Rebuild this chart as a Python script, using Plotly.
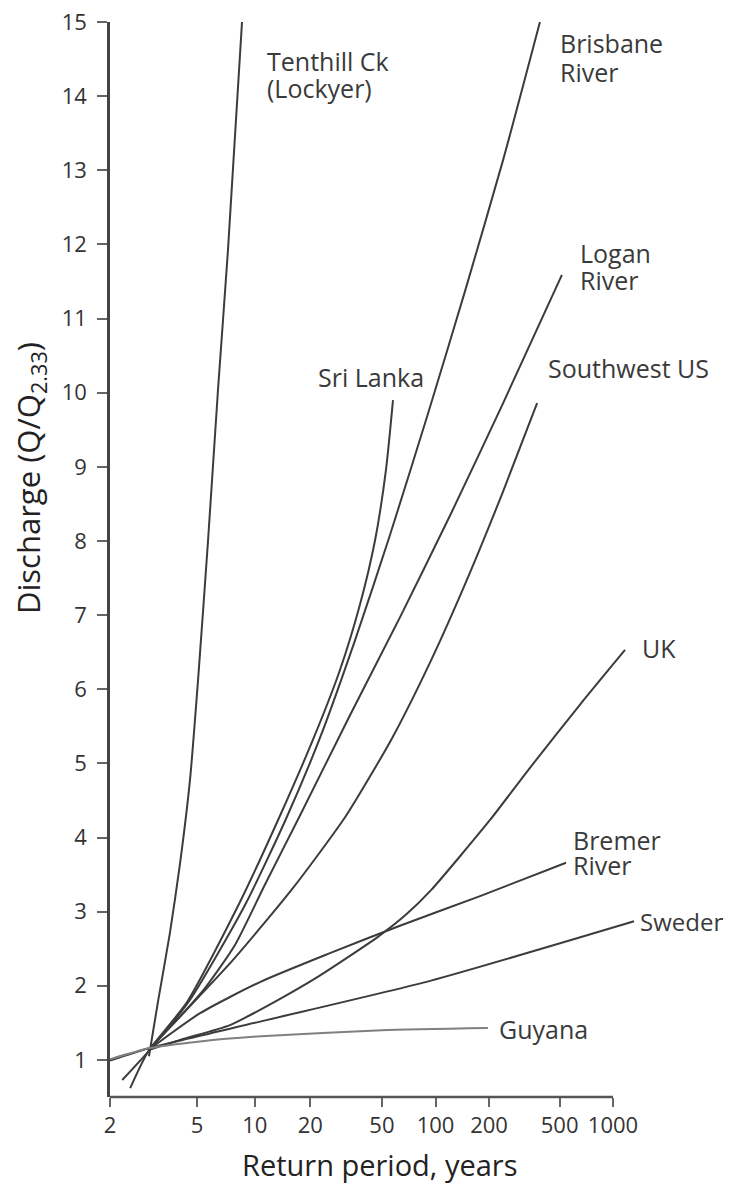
import numpy as np
import plotly.graph_objects as go

# ---------------- data (return period in years, discharge Q/Q2.33) ----------------
tenthill_T = [2.93, 3.23, 3.67, 4.11, 4.60, 5.05, 5.68, 6.39, 7.2, 8.54]
tenthill_Q = [1.05, 1.80, 2.71, 3.65, 4.77, 6.12, 8.01, 10.04, 11.92, 15.0]

srilanka_T = [2.42, 2.90, 4.45, 8.33, 13.7, 21.2, 29.2, 37.7, 45.8, 52.7, 57.7]
srilanka_Q = [0.62, 1.11, 1.78, 3.13, 4.30, 5.38, 6.26, 7.14, 8.01, 8.96, 9.90]

brisbane_T = [2.24, 2.90, 4.60, 8.86, 14.6, 22.6, 35.4, 55.5, 90.7, 146, 240, 387]
brisbane_Q = [0.73, 1.11, 1.81, 3.09, 4.23, 5.34, 6.66, 8.08, 9.72, 11.36, 13.14, 15.0]

logan_T = [2.90, 3.88, 5.48, 7.84, 11.3, 17.6, 33.2, 63.1, 121, 240, 515]
logan_Q = [1.13, 1.51, 1.97, 2.55, 3.36, 4.30, 5.65, 6.97, 8.35, 9.86, 11.59]

swus_T = [2.90, 7.66, 16.1, 31.5, 57.0, 94.3, 154, 240, 373]
swus_Q = [1.13, 2.35, 3.32, 4.29, 5.34, 6.39, 7.54, 8.67, 9.86]

uk_T = [2.90, 4.11, 7.38, 12.5, 22.0, 47.5, 68.3, 94.3, 203, 340, 650, 1169]
uk_Q = [1.13, 1.27, 1.47, 1.77, 2.12, 2.66, 2.96, 3.29, 4.24, 4.94, 5.79, 6.53]

bremer_T = [2.90, 5.17, 10.65, 25.7, 63.1, 178, 543]
bremer_Q = [1.13, 1.63, 2.05, 2.44, 2.81, 3.21, 3.66]

sweden_T = [2.0, 2.96, 10.8, 94.3, 1315]
sweden_Q = [0.99, 1.16, 1.52, 2.07, 2.87]

guyana_T = [2.0, 2.96, 5.17, 10.8, 50.0, 197]
guyana_Q = [1.01, 1.16, 1.25, 1.32, 1.40, 1.43]

x_ticks = [2, 5, 10, 20, 50, 100, 200, 500, 1000]
x_tick_text = ["2", "5", "10", "20", "50", "100", "200", "500", "1000"]
y_ticks = list(range(1, 16))

series = [
    ("Tenthill Ck (Lockyer)", tenthill_T, tenthill_Q),
    ("Sri Lanka", srilanka_T, srilanka_Q),
    ("Brisbane River", brisbane_T, brisbane_Q),
    ("Logan River", logan_T, logan_Q),
    ("Southwest US", swus_T, swus_Q),
    ("UK", uk_T, uk_Q),
    ("Bremer River", bremer_T, bremer_Q),
    ("Sweden", sweden_T, sweden_Q),
    ("Guyana", guyana_T, guyana_Q),
]

# label text lines and their anchor (return period, discharge)
labels = [
    ("Tenthill Ck", 11.3, 14.47),
    ("(Lockyer)", 11.3, 14.11),
    ("Brisbane", 489, 14.72),
    ("River", 489, 14.33),
    ("Logan", 634, 11.88),
    ("River", 634, 11.52),
    ("Sri Lanka", 21.5, 10.21),
    ("Southwest US", 418, 10.33),
    ("UK", 1421, 6.56),
    ("Bremer", 579, 3.97),
    ("River", 579, 3.63),
    ("Sweden", 1390, 2.87),
    ("Guyana", 221, 1.42),
]


def gumbel(T):
    """Gumbel (EV1) reduced variate for a return period T."""
    T = np.asarray(T, dtype=float)
    return -np.log(-np.log(1.0 - 1.0 / T))


FONT = "Open Sans"
LINE_COLOR = "#3c3c3c"

fig = go.Figure()
for name, T, Q in series:
    color = "#808080" if name == "Guyana" else LINE_COLOR
    fig.add_trace(go.Scatter(
        x=gumbel(T), y=Q, mode="lines", name=name,
        line=dict(color=color, width=2, shape="spline", smoothing=0.6),
        showlegend=False, hoverinfo="name",
    ))

for text, T, Q in labels:
    fig.add_annotation(
        x=float(gumbel(T)), y=Q, xref="x", yref="y", text=text,
        showarrow=False, xanchor="left", yanchor="middle",
        font=dict(family=FONT, size=24 if text == "Sweden" else 25, color="#3a3a3a"),
    )

# page has an 8px body margin; figure sized to end at the window edge
OFF = 8
W, H = 731 - OFF, 1185 - OFF
L, R, TOP, B = 110 - OFF, 21, 22 - OFF, 88
plot_w = W - L - R
plot_h = H - TOP - B
px_per_unit = (613 - 110) / float(gumbel(1000) - gumbel(2))
x0 = float(gumbel(2))
x1 = x0 + plot_w / px_per_unit


def paper_x(px):
    return (px - OFF - L) / plot_w


def paper_y(py):
    return ((H - B) - (py - OFF)) / plot_h


# axis titles
fig.add_annotation(
    x=paper_x(380), y=paper_y(1164), xref="paper", yref="paper",
    text="Return period, years", showarrow=False, xanchor="center", yanchor="middle",
    font=dict(family=FONT, size=29, color="#222"),
)
fig.add_annotation(
    x=paper_x(30), y=paper_y(478), xref="paper", yref="paper",
    text="Discharge (Q/Q<sub>2.33</sub>)", showarrow=False, textangle=-90,
    xanchor="center", yanchor="middle",
    font=dict(family=FONT, size=31, color="#222"),
)

# x-axis line only spans 2..1000 years
fig.add_shape(type="line", xref="x", yref="paper",
              x0=float(gumbel(2)), x1=float(gumbel(1000)), y0=0, y1=0,
              line=dict(color="#555", width=2.5))

fig.update_layout(
    width=W, height=H,
    margin=dict(l=L, r=R, t=TOP, b=B, autoexpand=False),
    paper_bgcolor="white", plot_bgcolor="white",
    xaxis=dict(
        range=[x0, x1], tickvals=gumbel(x_ticks), ticktext=x_tick_text,
        ticks="outside", ticklen=9, tickwidth=2, tickcolor="#666",
        showline=False, showgrid=False, zeroline=False, automargin=False,
        tickfont=dict(family=FONT, size=22, color="#333"),
    ),
    yaxis=dict(
        range=[0.5, 15], tickvals=y_ticks,
        ticks="outside", ticklen=10, tickwidth=2, tickcolor="#666",
        ticklabelstandoff=6, ticklabeloverflow="allow", automargin=False,
        showline=True, linecolor="#444", linewidth=2.5,
        showgrid=False, zeroline=False,
        tickfont=dict(family=FONT, size=22, color="#333"),
    ),
)

fig.write_html("out.html")
